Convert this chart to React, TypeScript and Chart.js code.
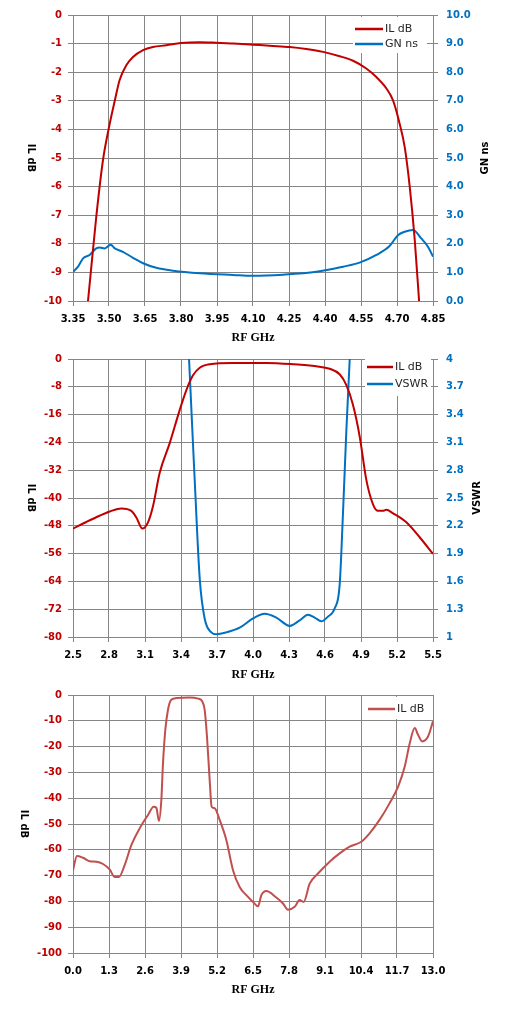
import { useEffect, useRef } from "react"
import { Chart, registerables } from "chart.js"

Chart.register(...registerables)

// Chart 1: pass band, IL and group delay
const il1Freq = [3.40, 3.4125, 3.447, 3.475, 3.503, 3.524, 3.544, 3.572, 3.60, 3.642, 3.683, 3.739, 3.80, 3.878, 3.947, 4.017, 4.10, 4.183, 4.253, 4.322, 4.392, 4.461, 4.517, 4.572, 4.614, 4.656, 4.683, 4.711, 4.732, 4.753, 4.774, 4.792, 4.80]
const il1Db = [-11, -10, -7.05, -5.07, -3.8, -3.0, -2.28, -1.76, -1.47, -1.23, -1.12, -1.06, -0.98, -0.95, -0.97, -1.0, -1.04, -1.08, -1.12, -1.19, -1.29, -1.44, -1.6, -1.87, -2.17, -2.57, -2.98, -3.8, -4.61, -6.0, -7.87, -10, -11]
const gdFreq = [3.35, 3.371, 3.392, 3.419, 3.447, 3.461, 3.482, 3.507, 3.524, 3.558, 3.60, 3.642, 3.697, 3.767, 3.878, 4.017, 4.10, 4.225, 4.364, 4.475, 4.544, 4.614, 4.669, 4.704, 4.732, 4.767, 4.801, 4.829, 4.85]
const gdNs = [1.02, 1.2, 1.49, 1.61, 1.84, 1.87, 1.84, 1.97, 1.84, 1.72, 1.51, 1.32, 1.16, 1.06, 0.97, 0.91, 0.88, 0.92, 1.02, 1.2, 1.34, 1.61, 1.92, 2.3, 2.42, 2.48, 2.19, 1.9, 1.55]
const x1Ticks = [3.35, 3.5, 3.65, 3.8, 3.95, 4.1, 4.25, 4.4, 4.55, 4.7, 4.85]

// Chart 2: 2.5 - 5.5 GHz, IL and VSWR
const il2Freq = [2.5, 2.611, 2.722, 2.806, 2.903, 2.986, 3.028, 3.078, 3.125, 3.167, 3.222, 3.306, 3.389, 3.444, 3.5, 3.556, 3.639, 3.833, 4.111, 4.333, 4.528, 4.639, 4.722, 4.778, 4.833, 4.889, 4.944, 5.0, 5.042, 5.083, 5.111, 5.167, 5.278, 5.389, 5.5]
const il2Db = [-48.8, -46.9, -45.1, -43.9, -43.0, -43.7, -45.6, -48.8, -47.0, -42.3, -32.8, -24.2, -14.7, -9.0, -4.7, -2.5, -1.5, -1.14, -1.14, -1.5, -2.1, -2.8, -4.4, -7.5, -13.2, -22.3, -34.7, -41.8, -43.7, -43.7, -43.4, -44.4, -47.0, -51.3, -56.1]
const vswrFreq = [3.455, 3.467, 3.514, 3.556, 3.597, 3.653, 3.694, 3.778, 3.889, 4.0, 4.097, 4.194, 4.306, 4.389, 4.458, 4.514, 4.569, 4.625, 4.681, 4.722, 4.75, 4.778, 4.806, 4.815]
const vswrVal = [4.4, 4.0, 2.7, 1.63, 1.2, 1.05, 1.03, 1.05, 1.1, 1.2, 1.25, 1.21, 1.12, 1.18, 1.24, 1.21, 1.17, 1.22, 1.31, 1.56, 2.34, 3.23, 4.0, 4.3]
const x2Ticks = [2.5, 2.8, 3.1, 3.4, 3.7, 4.0, 4.3, 4.6, 4.9, 5.2, 5.5]
const vswrTicks = [1, 1.3, 1.6, 1.9, 2.2, 2.5, 2.8, 3.1, 3.4, 3.7, 4]

// Chart 3: wide band IL
const il3Freq = [0, 0.144, 0.361, 0.602, 0.843, 1.083, 1.324, 1.505, 1.661, 1.866, 2.106, 2.407, 2.708, 2.913, 3.009, 3.105, 3.19, 3.25, 3.334, 3.43, 3.55, 3.731, 4.213, 4.514, 4.67, 4.754, 4.838, 4.935, 5.007, 5.115, 5.296, 5.537, 5.778, 6.018, 6.259, 6.5, 6.681, 6.801, 6.981, 7.342, 7.583, 7.763, 8.004, 8.185, 8.329, 8.546, 8.847, 9.268, 9.629, 9.99, 10.41, 10.71, 11.07, 11.43, 11.74, 11.98, 12.16, 12.34, 12.46, 12.61, 12.82, 13.0]
const il3Db = [-67.9, -62.4, -63.1, -64.4, -64.6, -65.5, -67.6, -70.5, -70.5, -65.9, -58.2, -51.7, -46.5, -43.3, -43.7, -48.8, -40.7, -26.4, -13.5, -5.7, -1.8, -1.2, -1.0, -1.4, -2.5, -5.7, -16.1, -32.9, -43.3, -43.9, -48.4, -56.2, -67.9, -74.4, -77.6, -80.2, -81.9, -77.6, -76.0, -78.5, -80.8, -83.2, -82.1, -79.5, -80.2, -73.1, -69.2, -64.6, -61.4, -58.8, -56.9, -53.6, -48.4, -42.0, -35.5, -27.7, -18.7, -12.8, -15.4, -18.0, -16.1, -10.2]
const x3Ticks = [0, 1.3, 2.6, 3.9, 5.2, 6.5, 7.8, 9.1, 10.4, 11.7, 13.0]

const RED = "#C00000"
const RED3 = "#C0504D"
const BLUE = "#0070C0"
const GRID = "#868686"
const tickFont = { family: "DejaVu Sans", size: 10, weight: "bold" as const }

const pts = (xs: number[], ys: number[]) => xs.map((x, i) => ({ x, y: ys[i] }))

type Overlay = {
  left: string
  leftX: number
  right?: string
  rightX?: number
  xTitleY: number
  legend: { label: string; color: string }[]
  box: [number, number, number, number]
  lineX: [number, number]
  rowY: number[]
}

// axis titles and the legend are drawn by hand (Excel style rotation, legend inside plot)
function overlayPlugin(o: Overlay) {
  return {
    id: "overlay",
    afterDraw(chart: Chart) {
      const { ctx, chartArea } = chart
      const midY = (chartArea.top + chartArea.bottom) / 2
      const midX = (chartArea.left + chartArea.right) / 2
      ctx.save()
      ctx.fillStyle = "#000"
      ctx.textAlign = "center"
      ctx.textBaseline = "middle"
      ctx.font = 'bold 10px "DejaVu Sans"'
      ctx.save()
      ctx.translate(o.leftX, midY)
      ctx.rotate(Math.PI / 2)
      ctx.fillText(o.left, 0, 0)
      ctx.restore()
      if (o.right && o.rightX) {
        ctx.save()
        ctx.translate(o.rightX, midY)
        ctx.rotate(-Math.PI / 2)
        ctx.fillText(o.right, 0, 0)
        ctx.restore()
      }
      ctx.font = 'bold 12px "Liberation Serif"'
      ctx.fillText("RF GHz", midX, o.xTitleY)

      ctx.fillStyle = "#fff"
      ctx.fillRect(...o.box)
      ctx.font = '11px "DejaVu Sans"'
      ctx.textAlign = "left"
      o.legend.forEach((item, i) => {
        ctx.strokeStyle = item.color
        ctx.lineWidth = 2.5
        ctx.beginPath()
        ctx.moveTo(o.lineX[0], o.rowY[i])
        ctx.lineTo(o.lineX[1], o.rowY[i])
        ctx.stroke()
        ctx.fillStyle = "#262626"
        ctx.fillText(item.label, o.lineX[1] + 2, o.rowY[i])
      })
      ctx.restore()
    },
  }
}

function xScale(ticks: number[], digits: number, height: number) {
  return {
    type: "linear" as const,
    min: ticks[0],
    max: ticks[ticks.length - 1],
    afterBuildTicks: (axis: any) => {
      axis.ticks = ticks.map((value) => ({ value }))
    },
    afterFit: (axis: any) => {
      axis.height = height
    },
    ticks: {
      color: "#000",
      font: tickFont,
      padding: 7,
      maxRotation: 0,
      autoSkip: false,
      callback: (v: any) => Number(v).toFixed(digits),
    },
    grid: { color: GRID, tickLength: 5 },
    border: { color: GRID },
  }
}

function leftScale(min: number, max: number, step: number) {
  return {
    position: "left" as const,
    min,
    max,
    afterFit: (axis: any) => {
      axis.width = 73
    },
    ticks: { stepSize: step, color: RED, font: tickFont, padding: 6, callback: (v: any) => String(v) },
    grid: { color: GRID, tickLength: 5 },
    border: { color: GRID },
  }
}

function rightScale(min: number, max: number, ticks: number[], fmt: (v: number) => string) {
  return {
    position: "right" as const,
    min,
    max,
    afterBuildTicks: (axis: any) => {
      axis.ticks = ticks.map((value) => ({ value }))
    },
    afterFit: (axis: any) => {
      axis.width = 76
    },
    ticks: { color: BLUE, font: tickFont, padding: 8, callback: (v: any) => fmt(Number(v)) },
    grid: { drawOnChartArea: false, color: GRID, tickLength: 5 },
    border: { color: GRID },
  }
}

const line = (data: { x: number; y: number }[], color: string, axis: string) => ({
  data,
  borderColor: color,
  borderWidth: 2,
  pointRadius: 0,
  cubicInterpolationMode: "monotone" as const,
  yAxisID: axis,
})

function config1(): any {
  return {
    type: "line",
    data: {
      datasets: [line(pts(il1Freq, il1Db), RED, "y"), line(pts(gdFreq, gdNs), BLUE, "y1")],
    },
    options: {
      animation: false,
      responsive: false,
      layout: { padding: { top: 15 } },
      plugins: { legend: { display: false }, tooltip: { enabled: false } },
      scales: {
        x: xScale(x1Ticks, 2, 44),
        y: leftScale(-10, 0, 1),
        y1: rightScale(0, 10, [0, 1, 2, 3, 4, 5, 6, 7, 8, 9, 10], (v) => v.toFixed(1)),
      },
    },
    plugins: [
      overlayPlugin({
        left: "IL dB",
        leftX: 31,
        right: "GN ns",
        rightX: 485,
        xTitleY: 338,
        legend: [
          { label: "IL dB", color: RED },
          { label: "GN ns", color: BLUE },
        ],
        box: [353, 17, 74, 36],
        lineX: [355, 383],
        rowY: [29, 44],
      }),
    ],
  }
}

function config2(): any {
  return {
    type: "line",
    data: {
      datasets: [line(pts(il2Freq, il2Db), RED, "y"), line(pts(vswrFreq, vswrVal), BLUE, "y1")],
    },
    options: {
      animation: false,
      responsive: false,
      layout: { padding: { top: 12 } },
      plugins: { legend: { display: false }, tooltip: { enabled: false } },
      scales: {
        x: xScale(x2Ticks, 1, 43),
        y: leftScale(-80, 0, 8),
        y1: rightScale(1, 4, vswrTicks, (v) => String(Math.round(v * 10) / 10)),
      },
    },
    plugins: [
      overlayPlugin({
        left: "IL dB",
        leftX: 31,
        right: "VSWR",
        rightX: 477,
        xTitleY: 330,
        legend: [
          { label: "IL dB", color: RED },
          { label: "VSWR", color: BLUE },
        ],
        box: [365, 8, 66, 43],
        lineX: [367, 393],
        rowY: [22, 39],
      }),
    ],
  }
}

function config3(): any {
  return {
    type: "line",
    data: { datasets: [line(pts(il3Freq, il3Db), RED3, "y")] },
    options: {
      animation: false,
      responsive: false,
      layout: { padding: { top: 15, right: 76 } },
      plugins: { legend: { display: false }, tooltip: { enabled: false } },
      scales: {
        x: xScale(x3Ticks, 1, 62),
        y: leftScale(-100, 0, 10),
      },
    },
    plugins: [
      overlayPlugin({
        left: "IL dB",
        leftX: 24,
        xTitleY: 310,
        legend: [{ label: "IL dB", color: RED3 }],
        box: [365, 17, 67, 22],
        lineX: [368, 395],
        rowY: [29],
      }),
    ],
  }
}

function Panel({ height, make }: { height: number; make: () => any }) {
  const ref = useRef<HTMLCanvasElement>(null)

  useEffect(() => {
    if (!ref.current) return
    const chart = new Chart(ref.current, make())
    return () => chart.destroy()
  }, [make])

  return <canvas ref={ref} width={509} height={height} style={{ display: "block", width: 509, height }} />
}

export default function App() {
  return (
    <div style={{ position: "absolute", left: 0, top: 0, width: 509, background: "#fff" }}>
      <Panel height={345} make={config1} />
      <Panel height={335} make={config2} />
      <Panel height={335} make={config3} />
    </div>
  )
}
